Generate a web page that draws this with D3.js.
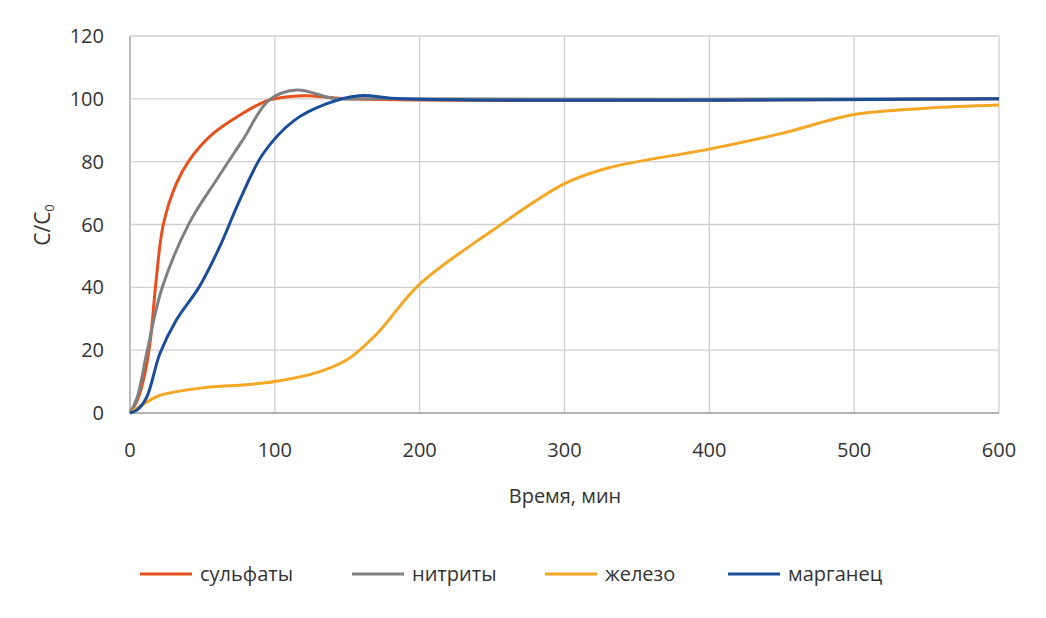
<!DOCTYPE html>
<html><head><meta charset="utf-8">
<script src="https://cdn.jsdelivr.net/npm/d3@7"></script>
<style>body{margin:0;background:#fff;font-family:"Open Sans",sans-serif}</style>
</head><body><svg id="c" width="1046" height="618"></svg>
<script>
const xTicks=[0,100,200,300,400,500,600];
const yTicks=[0,20,40,60,80,100,120];
const sulfates=[[0,0],[5,4],[10,12],[14,23],[18,42],[23,60],[32,73],[41,80.5],[55,88],[74,94.3],[96,99.6],[120,101],[150,100],[600,100]];
const nitrites=[[0,0],[5,5],[11.5,19],[22.3,40],[41,60.5],[60,74.4],[78,87],[96,99.6],[115,102.8],[140,100.2],[160,100],[600,100]];
const iron=[[0,0],[10,3],[20,5.5],[50,8],[80,9],[100,10],[130,13],[150,17],[170,25],[200,41],[250,58],[300,73],[330,78],[400,84],[450,89],[500,95],[550,97],[600,98]];
const manganese=[[0,0],[5,1],[11.5,5],[20.7,19],[32,29.6],[48,40.3],[62,53],[76,68],[92,82.6],[113,93],[135,98.3],[158,101],[188,100],[600,100]];
const names=["сульфаты","нитриты","железо","марганец"];
const colors=["#e8501e","#808080","#f5a623","#1a4e9a"];
const series=[sulfates,nitrites,iron,manganese];
const svg=d3.select("#c");
const x=d3.scaleLinear().domain([0,600]).range([130,999]);
const y=d3.scaleLinear().domain([0,120]).range([413,36]);
const g=svg.append("g");
g.selectAll(".gx").data(xTicks).join("line").attr("x1",d=>x(d)).attr("x2",d=>x(d)).attr("y1",y(0)).attr("y2",y(120)).attr("stroke",d=>d===0?"#999":"#d0d0d0").attr("stroke-width",1.3);
g.selectAll(".gy").data(yTicks).join("line").attr("x1",x(0)).attr("x2",x(600)).attr("y1",d=>y(d)).attr("y2",d=>y(d)).attr("stroke",d=>d===0?"#999":"#d0d0d0").attr("stroke-width",1.3);
g.selectAll(".tx").data(xTicks).join("text").attr("x",d=>x(d)).attr("y",457).attr("text-anchor","middle").attr("font-size",20).attr("fill","#333").text(d=>d);
g.selectAll(".ty").data(yTicks).join("text").attr("x",104).attr("y",d=>y(d)+7).attr("text-anchor","end").attr("font-size",20).attr("fill","#333").text(d=>d);
const line=d3.line().x(d=>x(d[0])).y(d=>y(d[1])).curve(d3.curveCatmullRom.alpha(0.5));
series.forEach((s,i)=>g.append("path").datum(s).attr("d",line).attr("fill","none").attr("stroke",colors[i]).attr("stroke-width",3));
svg.append("text").attr("x",565).attr("y",503).attr("text-anchor","middle").attr("font-size",20).attr("fill","#333").text("Время,  мин");
const yl=svg.append("text").attr("transform","translate(50,225) rotate(-90)").attr("text-anchor","middle").attr("font-size",21).attr("fill","#333");
yl.append("tspan").text("C/C");yl.append("tspan").attr("font-size",13).attr("dy",4).text("0");
const lx=[140,352,545,728];
names.forEach((n,i)=>{svg.append("line").attr("x1",lx[i]).attr("x2",lx[i]+52).attr("y1",574).attr("y2",574).attr("stroke",colors[i]).attr("stroke-width",3);
svg.append("text").attr("x",lx[i]+60).attr("y",581).attr("font-size",20).attr("fill","#333").text(n);});
</script></body></html>
